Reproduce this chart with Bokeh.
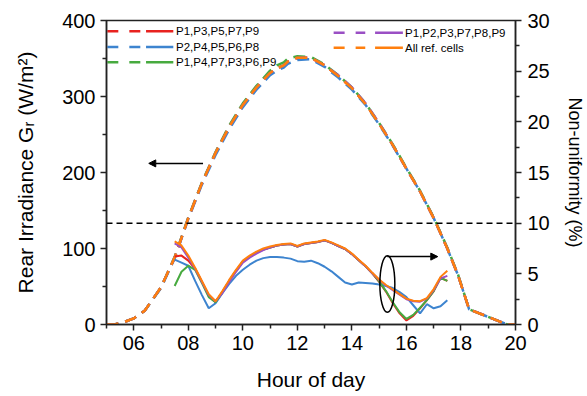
from bokeh.plotting import figure
from bokeh.models import Range1d, LinearAxis, FixedTicker, Span, Arrow, NormalHead
from bokeh.embed import file_html
from bokeh.resources import INLINE
from bokeh.core.properties import value

# ---------------- data ----------------
# Rear irradiance (W/m2), left axis, dashed
irr_hours = [5.0, 5.3, 5.7, 6.0, 6.4, 7.0, 7.5, 8.0, 8.5, 9.0, 9.5, 10.0, 10.5, 11.0, 11.25,
             11.5, 11.65, 12.0, 12.5, 13.0, 13.5, 14.0, 14.5, 15.0, 15.5, 16.0, 16.5, 17.0,
             17.5, 17.9, 18.3, 19.0, 19.7, 20.0]
irr_red = [0, 0, 4, 8, 18, 49, 88, 140, 186, 226, 260, 289, 312, 331, 337,
           341, 346, 351, 351, 341, 327, 311, 290, 264, 236, 205, 175, 140,
           100, 64, 20, 10, 0, 0]
irr_blue = [0, 0, 4, 8, 18, 48, 87, 139, 184, 223, 257, 286, 309, 328, 334,
            338, 343, 348, 349, 339, 325, 309, 289, 263, 235, 205, 175, 140,
            100, 64, 20, 10, 0, 0]
irr_green = [0, 0, 4, 8, 18, 49, 89, 141, 187, 227, 262, 291, 314, 334, 341,
             345, 350, 353, 352, 342, 328, 312, 291, 265, 237, 206, 176, 141,
             101, 65, 20, 10, 0, 0]
irr_purple = [0, 0, 4, 8, 18, 49, 88, 140, 186, 226, 260, 289, 312, 331, 337,
              341, 346, 351, 351, 341, 328, 312, 291, 265, 236, 205, 175, 140,
              100, 64, 20, 10, 0, 0]
irr_orange = [0, 0, 4, 8, 18, 49, 88, 140, 186, 226, 260, 289, 312, 331, 337,
              341, 346, 351, 351, 341, 327, 311, 290, 264, 236, 205, 175, 140,
              100, 64, 20, 10, 0, 0]

# Non-uniformity (%), right axis, solid
nu_hours = [7.5, 7.75, 8.0, 8.25, 8.5, 8.75, 9.0, 9.25, 9.5, 9.75, 10.0, 10.25, 10.5, 10.75,
            11.0, 11.25, 11.5, 11.75, 12.0, 12.25, 12.5, 12.75, 13.0, 13.25, 13.5, 13.75,
            14.0, 14.25, 14.5, 14.75, 15.0, 15.25, 15.5, 15.75, 16.0, 16.25, 16.5, 16.75,
            17.0, 17.25, 17.5]
nu_orange = [8.2, 7.8, 6.8, 5.6, 4.3, 3.0, 2.3, 3.3, 4.4, 5.4, 6.3, 6.8, 7.2, 7.5,
             7.7, 7.85, 7.95, 8.0, 7.75, 8.0, 8.1, 8.2, 8.35, 8.1, 7.8, 7.5,
             7.0, 6.4, 5.8, 5.1, 4.45, 3.9, 3.45, 3.0, 2.55, 2.35, 2.3, 2.6,
             3.5, 4.7, 5.3]
nu_purple = [8.0, 7.6, 6.6, 5.5, 4.2, 2.9, 2.3, 3.1, 4.2, 5.2, 6.1, 6.6, 7.0, 7.35,
             7.6, 7.8, 7.9, 7.95, 7.7, 7.95, 8.05, 8.15, 8.3, 8.05, 7.75, 7.45,
             6.95, 6.35, 5.75, 5.05, 4.4, 3.85, 3.4, 2.95, 2.5, 2.3, 2.25, 2.55,
             3.4, 4.55, 4.8]
nu_red = [6.7, 6.8, 6.3, 5.5, 4.2, 2.8, 2.2, 3.2, 4.3, 5.3, 6.2, 6.7, 7.1, 7.4,
          7.6, 7.8, 7.9, 7.95, 7.7, 7.95, 8.05, 8.15, 8.3, 8.05, 7.75, 7.45,
          6.95, 6.35, 5.75, 5.05, 4.2, 3.25, 2.1, 1.1, 0.4, 0.85, 1.6, 2.4,
          3.3, 4.6, 4.3]
nu_green = [3.8, 5.2, 5.8, 5.4, 4.1, 2.7, 2.2, 3.2, 4.3, 5.3, 6.2, 6.7, 7.1, 7.4,
            7.6, 7.8, 7.9, 7.95, 7.7, 7.95, 8.05, 8.15, 8.3, 8.05, 7.75, 7.45,
            6.95, 6.35, 5.75, 5.05, 4.25, 3.3, 2.2, 1.2, 0.55, 0.95, 1.65, 2.4,
            3.3, 4.6, 4.3]
nu_blue = [6.4, 6.1, 5.8, 4.3, 2.9, 1.6, 2.1, 3.1, 4.0, 4.8, 5.4, 5.9, 6.3, 6.55,
           6.65, 6.65, 6.6, 6.5, 6.25, 6.2, 6.3, 6.05, 5.7, 5.25, 4.7, 4.15,
           3.95, 4.15, 4.1, 4.05, 3.95, 3.8, 3.6, 3.2, 2.7, 1.9, 1.1, 2.0,
           1.6, 1.8, 2.4]

series_labels = ["P1,P3,P5,P7,P9", "P2,P4,P5,P6,P8", "P1,P4,P7,P3,P6,P9",
                 "P1,P2,P3,P7,P8,P9", "All ref. cells"]
series_colors = ["#e8221f", "#3d84cf", "#47aa3f", "#9a4fc4", "#ff7f0e"]

x_ticks = [6, 8, 10, 12, 14, 16, 18, 20]
x_tick_labels = ["06", "08", "10", "12", "14", "16", "18", "20"]
x_minor = [5, 7, 9, 11, 13, 15, 17, 19]
yl_ticks = [0, 100, 200, 300, 400]
yl_minor = [50, 150, 250, 350]
yr_ticks = [0, 5, 10, 15, 20, 25, 30]
yr_minor = [2.5, 7.5, 12.5, 17.5, 22.5, 27.5]

threshold_pct = 10

FONT = "Liberation Sans"

# ---------------- figure ----------------
p = figure(width=587, height=396, x_range=Range1d(5, 20), y_range=Range1d(0, 400),
           output_backend="svg", toolbar_location=None,
           min_border_left=106, min_border_right=68, min_border_top=20, min_border_bottom=72,
           background_fill_color="white", border_fill_color="white")
p.extra_y_ranges = {"right": Range1d(0, 30)}
p.xgrid.visible = False
p.ygrid.visible = False
p.outline_line_color = "#222222"
p.outline_line_width = 1.5

irr = [irr_red, irr_blue, irr_green, irr_purple, irr_orange]
nu = [nu_red, nu_blue, nu_green, nu_purple, nu_orange]
for vals, col in zip(irr, series_colors):
    p.line(irr_hours, vals, line_color=col, line_width=2.5, line_dash="12 7")
for vals, col in zip(nu, series_colors):
    p.line(nu_hours, vals, line_color=col, line_width=2, y_range_name="right")

# threshold line
p.add_layout(Span(location=threshold_pct, dimension="width", y_range_name="right",
                  line_color="black", line_width=1.5, line_dash="6 4"))

# annotations: arrows and ellipse
p.add_layout(Arrow(x_start=8.54, y_start=212, x_end=6.55, y_end=212,
                   line_color="black", line_width=1.5,
                   end=NormalHead(size=7, fill_color="black", line_color="black")))
p.ellipse(x=[15.3], y=[4.0], width=0.55, height=5.6, y_range_name="right",
          fill_color=None, line_color="black", line_width=1.5)
p.add_layout(Arrow(x_start=15.3, y_start=6.7, x_end=17.15, y_end=6.7, y_range_name="right",
                   line_color="black", line_width=1.5,
                   end=NormalHead(size=7, fill_color="black", line_color="black")))

# manual two-part legend (dashed + solid swatch)
leg_rows_left = [386, 365, 345]
leg_rows_right = [384, 364]
leg_y = leg_rows_left + leg_rows_right
leg_dash_x = [(5.03, 6.24)] * 3 + [(13.33, 14.49)] * 2
leg_solid_x = [(6.45, 7.45)] * 3 + [(14.85, 15.87)] * 2
leg_text_x = [7.55] * 3 + [15.95] * 2
for i in range(5):
    p.line(list(leg_dash_x[i]), [leg_y[i]] * 2, line_color=series_colors[i], line_width=2.5,
           line_dash="11 11")
    p.line(list(leg_solid_x[i]), [leg_y[i]] * 2, line_color=series_colors[i], line_width=2.5)
p.text(x=leg_text_x, y=leg_y, text=series_labels, text_font=value(FONT),
       text_font_size="11.5px", text_baseline="middle", text_align="left", text_color="black")

# axes
p.add_layout(LinearAxis(y_range_name="right", axis_label="Non-uniformity (%)"), "right")

xa = p.xaxis[0]
xa.ticker = FixedTicker(ticks=x_ticks, minor_ticks=x_minor)
xa.major_label_overrides = dict(zip(x_ticks, x_tick_labels))
xa.axis_label = "Hour of day"

ya = p.yaxis[0]
ya.ticker = FixedTicker(ticks=yl_ticks, minor_ticks=yl_minor)
ya.axis_label = "Rear Irradiance G\u1d63 (W/m\u00b2)"

yr = p.yaxis[1]
yr.ticker = FixedTicker(ticks=yr_ticks, minor_ticks=yr_minor)

for ax in [xa, ya, yr]:
    ax.axis_line_color = "#222222"
    ax.axis_line_width = 1.5
    ax.major_tick_line_color = "#222222"
    ax.minor_tick_line_color = "#222222"
    ax.major_tick_line_width = 1.5
    ax.minor_tick_line_width = 1.5
    ax.major_tick_out = 6
    ax.major_tick_in = 0
    ax.minor_tick_out = 4
    ax.minor_tick_in = 0
    ax.major_label_text_font = FONT
    ax.major_label_text_font_size = "20px"
    ax.major_label_text_color = "black"
    ax.axis_label_text_font = FONT
    ax.axis_label_text_font_style = "normal"
    ax.axis_label_text_color = "black"

xa.major_label_standoff = 5
xa.axis_label_standoff = 15
xa.axis_label_text_font_size = "21px"
ya.major_label_standoff = 5
ya.axis_label_standoff = 22
ya.axis_label_text_font_size = "21px"
yr.major_label_standoff = 6
yr.axis_label_standoff = 12
yr.axis_label_text_font_size = "18px"

open("out.html", "w").write(file_html(p, INLINE))
